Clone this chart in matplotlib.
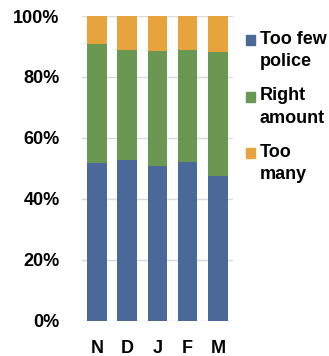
import matplotlib.pyplot as plt
from matplotlib.patches import Rectangle
import numpy as np

plt.rcParams['font.family'] = ['Liberation Sans', 'DejaVu Sans']

months = ['N', 'D', 'J', 'F', 'M']
too_few = [51.7, 52.7, 50.9, 52.2, 47.5]
right_amount = [39.0, 36.0, 37.6, 36.6, 40.8]
too_many = [9.3, 11.3, 11.5, 11.2, 11.7]
labels = ['Too few\npolice', 'Right\namount', 'Too\nmany']
colors = ['#4a6898', '#6a9852', '#e8a43c']

fig = plt.figure(figsize=(3.29, 3.56), dpi=100)
ax = fig.add_axes([0.249, 0.099, 0.459, 0.856])

x = np.arange(len(months))
bottom = np.zeros(len(months))
for vals, c in zip([too_few, right_amount, too_many], colors):
    ax.bar(x, vals, 0.65, bottom=bottom, color=c, zorder=3)
    bottom += np.array(vals)

ax.set_xlim(-0.5, len(months) - 0.5)
ax.set_ylim(0, 100)
ax.set_yticks(range(0, 101, 20))
ax.set_yticklabels([f'{v}%' for v in range(0, 101, 20)])
ax.set_xticks(x)
ax.set_xticklabels(months)
ax.tick_params(length=0, labelsize=13)
ax.tick_params(axis='y', pad=16)
ax.tick_params(axis='x', pad=14)
for lbl in ax.get_xticklabels() + ax.get_yticklabels():
    lbl.set_fontweight('bold')
ax.yaxis.grid(True, color='#d9d9d9', linewidth=1, zorder=0)
for s in ax.spines.values():
    s.set_visible(False)

# legend drawn by hand so the swatch sits on the first text line
for i, (lab, c) in enumerate(zip(labels, colors)):
    ytop = 40 + i * 56.5
    fig.patches.append(Rectangle((245.5 / 329, 1 - (ytop + 5) / 356), 10 / 329, 10 / 356,
                                 transform=fig.transFigure, color=c))
    fig.text(260 / 329, 1 - (ytop - 9) / 356, lab, fontsize=13, fontweight='bold',
             va='top', ha='left', linespacing=1.4)

fig.savefig('out.png', dpi=100)
